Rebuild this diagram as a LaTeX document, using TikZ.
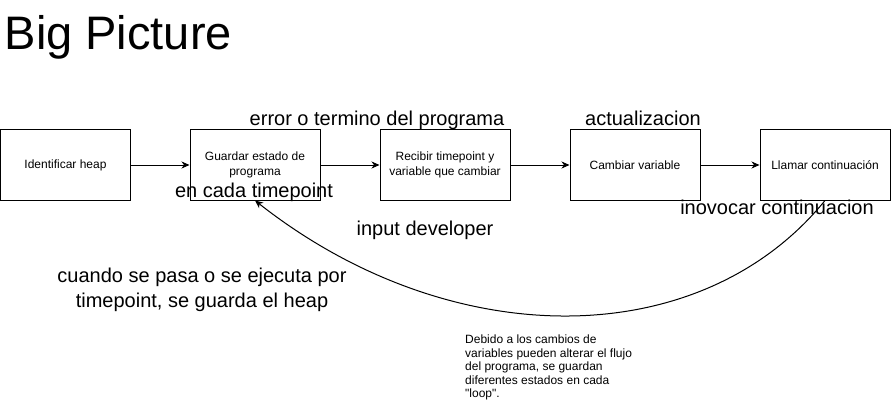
\documentclass[tikz,border=0pt]{standalone}
\usepackage{fontspec}
\setmainfont{Liberation Sans}[Ligatures=TeXOff]
\usetikzlibrary{arrows.meta}
\begin{document}
\begin{tikzpicture}[x=1pt,y=-1pt,
  box/.style={draw, line width=1pt, minimum width=130pt, minimum height=70pt, inner sep=0pt, align=center, font=\fontsize{12}{14.5}\selectfont},
  lbl/.style={anchor=base, inner sep=0pt, font=\fontsize{20}{25}\selectfont},
  flow/.style={line width=1pt, -{Stealth[length=8pt,width=7pt,inset=2.5pt]}},
  ]
\useasboundingbox (0,0) rectangle (891,401);
\node[anchor=base west, inner sep=0pt, font=\fontsize{47}{50}\selectfont] (title) at (4.5,50) {Big Picture};
\node[box] (b1) at (65.5,165) {Identificar heap};
\node[box] (b2) at (255,165) {Guardar estado de\\programa};
\node[box] (b3) at (445,165) {Recibir timepoint y\\variable que cambiar};
\node[box] (b4) at (635,165) {Cambiar variable};
\node[box] (b5) at (825,165) {Llamar continuación};
\draw[flow] (b1) -- (b2);
\draw[flow] (b2) -- (b3);
\draw[flow] (b3) -- (b4);
\draw[flow] (b4) -- (b5);
\draw[flow] (b5.south) .. controls (700,354) and (450,354) .. (b2.south);
\node[lbl] (l1) at (377,126) {error o termino del programa};
\node[lbl] (l2) at (643,126) {actualizacion};
\node[lbl] (l3) at (254,197) {en cada timepoint};
\node[lbl] (l4) at (777,214) {inovocar continuacion};
\node[lbl] (l5) at (425,235) {input developer};
\node[lbl, align=center] (l6) at (202,307) {cuando se pasa o se ejecuta por\\timepoint, se guarda el heap};
\node[anchor=base west, inner sep=0pt, align=left, font=\fontsize{12}{13.4}\selectfont] (note) at (465,397.5) {Debido a los cambios de\\variables pueden alterar el flujo\\del programa, se guardan\\diferentes estados en cada\\"loop".};
\end{tikzpicture}
\end{document}
